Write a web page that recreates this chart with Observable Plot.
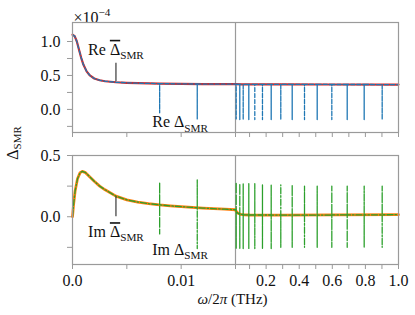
<!DOCTYPE html>
<html><head><meta charset="utf-8">
<script src="https://cdn.jsdelivr.net/npm/d3@7"></script>
<script src="https://cdn.jsdelivr.net/npm/@observablehq/plot@0.6"></script>
<style>
body{margin:0;background:#fff}
#wrap{position:relative;width:415px;height:315px;font-family:"Liberation Serif",serif;background:#fff}
#wrap svg{display:block;font-family:"Liberation Serif",serif !important}
#wrap svg text{fill:#111;font-family:"Liberation Serif",serif !important}
#ylab{position:absolute;left:13px;top:143px;transform:translate(-50%,-50%) rotate(-90deg);white-space:nowrap;font-size:16px;color:#111}
#ylab sub{font-size:11px;vertical-align:-3px}
</style></head><body><div id="wrap"><div id="ylab">Δ<sub>SMR</sub></div></div>
<script>
// ---- data ----
const reBarOmega = [0, 0.0002, 0.0004, 0.0006, 0.0008, 0.001, 0.0013, 0.0016, 0.002, 0.0025, 0.003, 0.004, 0.005, 0.006, 0.008, 0.01, 0.012, 0.015, 0.05, 0.1, 0.3, 0.6, 1.0];
const reBarValue = [1.10, 1.08, 1.0, 0.88, 0.76, 0.66, 0.56, 0.50, 0.455, 0.43, 0.415, 0.40, 0.392, 0.386, 0.38, 0.376, 0.373, 0.371, 0.370, 0.369, 0.368, 0.367, 0.366];
const imBarOmega = [0, 0.0001, 0.00024, 0.00046, 0.0007, 0.0009, 0.0012, 0.0016, 0.002, 0.0025, 0.003, 0.004, 0.005, 0.006, 0.007, 0.008, 0.009, 0.01, 0.011, 0.012, 0.013, 0.014, 0.015, 0.02, 0.03, 0.045, 0.07, 0.1, 0.3, 0.6, 1.0];
const imBarValue = [0, 0.10, 0.21, 0.31, 0.36, 0.37, 0.36, 0.325, 0.29, 0.25, 0.22, 0.168, 0.138, 0.12, 0.107, 0.097, 0.089, 0.082, 0.076, 0.071, 0.066, 0.062, 0.057, 0.042, 0.028, 0.02, 0.016, 0.014, 0.013, 0.015, 0.017];
const resOmega = [0.00802, 0.01148, 0.0192, 0.041, 0.0615, 0.0954, 0.1316, 0.178, 0.2307, 0.2887, 0.3576, 0.432, 0.5087, 0.597, 0.690, 0.7926, 0.9014];
const reResBase = [0.38, 0.374, 0.371, 0.37, 0.37, 0.369, 0.369, 0.369, 0.369, 0.368, 0.368, 0.368, 0.368, 0.367, 0.367, 0.367, 0.366];
const reResMin = [-0.05, -0.14, -0.14, -0.15, -0.15, -0.15, -0.15, -0.15, -0.15, -0.15, -0.15, -0.15, -0.15, -0.15, -0.15, -0.15, -0.15];
const imResBase = [0.097, 0.074, 0.040, 0.022, 0.017, 0.015, 0.014, 0.014, 0.014, 0.013, 0.013, 0.013, 0.013, 0.014, 0.015, 0.015, 0.016];
const imResTop = [0.28, 0.30, 0.28, 0.27, 0.27, 0.27, 0.27, 0.26, 0.26, 0.26, 0.26, 0.25, 0.25, 0.25, 0.25, 0.25, 0.25];
const imResBottom = [-0.14, -0.26, -0.26, -0.26, -0.26, -0.26, -0.26, -0.26, -0.26, -0.25, -0.25, -0.25, -0.25, -0.25, -0.25, -0.25, -0.25];
const xTicks = [0, 0.005, 0.01, 0.015, 0.1, 0.2, 0.3, 0.4, 0.5, 0.6, 0.7, 0.8, 0.9, 1.0];
const xTickLabels = ["0.0", "", "0.01", "", "", "0.2", "", "0.4", "", "0.6", "", "0.8", "", "1.0"];
const yTopTicks = [-0.25, 0, 0.25, 0.5, 0.75, 1.0];
const yTopTickLabels = ["", "0.0", "", "0.5", "", "1.0"];
const yBotTicks = [-0.25, 0, 0.25, 0.5];
const yBotTickLabels = ["", "0.0", "", "0.5"];
const xBreak = [0, 0.015, 1.0];
const topLabels = [{w: 0.004, v: 0.88, t: "Re Δ\u0304_SMR"}, {w: 0.0099, v: -0.19, t: "Re Δ_SMR"}];
const topPointer = [{w: 0.004, v1: 0.41, v2: 0.68}];
const botLabels = [{w: 0.004, v: -0.125, t: "Im Δ\u0304_SMR"}, {w: 0.0099, v: -0.27, t: "Im Δ_SMR"}];
const botPointer = [{w: 0.004, v1: 0.0, v2: 0.16}];

// ---- build series ----
const reBar = reBarOmega.map((w, i) => ({w, v: reBarValue[i]}));
const imBar = imBarOmega.map((w, i) => ({w, v: imBarValue[i]}));
const reFull = reBar.concat(resOmega.flatMap((w, i) => [{w, v: reResBase[i]}, {w, v: reResMin[i]}, {w, v: reResBase[i]}])).sort((a, b) => a.w - b.w);
const imFull = imBar.concat(resOmega.flatMap((w, i) => [{w, v: imResBase[i]}, {w, v: imResTop[i]}, {w, v: imResBottom[i]}, {w, v: imResBase[i]}])).sort((a, b) => a.w - b.w);

const GRAY = "#9a9a9a";
const FONT = "'Liberation Serif', serif";
const fmt = (ticks, labels) => d => { const i = ticks.indexOf(d); return i < 0 ? "" : labels[i]; };

// turn "Re Δ̄_SMR" into tspans: overlined Δ, subscript SMR; "^" gives superscript
function richify(svg) {
  const ns = "http://www.w3.org/2000/svg";
  svg.querySelectorAll("text").forEach(t => {
    if (t.querySelector("tspan")) return;
    const s = t.textContent;
    const m = s.match(/^(.*?)([_^])(.*)$/);
    if (!m) return;
    t.textContent = "";
    const base = m[1];
    const k = base.indexOf("\u0304");
    if (k > 0) {
      const a0 = document.createElementNS(ns, "tspan"); a0.textContent = base.slice(0, k - 1); t.appendChild(a0);
      const a1 = document.createElementNS(ns, "tspan"); a1.textContent = base[k - 1];
      a1.setAttribute("style", "text-decoration: overline; text-decoration-thickness: 1px");
      t.appendChild(a1);
      const rest = base.slice(k + 1);
      if (rest) { const a2 = document.createElementNS(ns, "tspan"); a2.textContent = rest; t.appendChild(a2); }
    } else {
      const a = document.createElementNS(ns, "tspan"); a.textContent = base; t.appendChild(a);
    }
    const b = document.createElementNS(ns, "tspan"); b.textContent = m[3];
    b.setAttribute("font-size", "0.7em");
    b.setAttribute("dy", m[2] === "_" ? "0.38em" : "-0.6em");
    t.appendChild(b);
  });
}

const topPlot = Plot.plot({
  width: 415, height: 140,
  marginLeft: 72, marginRight: 17, marginTop: 22, marginBottom: 8,
  style: {fontFamily: FONT, fontSize: "16px", color: GRAY, background: "white", overflow: "visible"},
  x: {type: "linear", domain: xBreak, ticks: xTicks, tickFormat: () => "", tickSize: 5, label: null},
  y: {type: "linear", domain: [-0.34, 1.28], ticks: yTopTicks, tickFormat: fmt(yTopTicks, yTopTickLabels), tickSize: 5, tickPadding: 7, label: null},
  marks: [
    Plot.ruleX([xBreak[1]], {stroke: GRAY, strokeWidth: 1.2}),
    Plot.line(reBar, {x: "w", y: "v", stroke: "#d62728", strokeWidth: 2.2}),
    Plot.line(reFull, {x: "w", y: "v", stroke: "#1f77b4", strokeWidth: 1.3, strokeDasharray: "4,2"}),
    Plot.ruleX(topPointer, {x: "w", y1: "v1", y2: "v2", stroke: "#111", strokeWidth: 1}),
    Plot.text(topLabels, {x: "w", y: "v", text: "t", textAnchor: "middle", fontSize: 16, fill: "#111"}),
    Plot.text(["×10^−4"], {frameAnchor: "top-left", dy: -11, dx: 1, textAnchor: "start", fontSize: 16, fill: "#111"}),
    Plot.frame({stroke: GRAY, strokeWidth: 1.2})
  ]
});
richify(topPlot);

const botPlot = Plot.plot({
  width: 415, height: 175,
  marginLeft: 72, marginRight: 17, marginTop: 15, marginBottom: 51,
  style: {fontFamily: FONT, fontSize: "16px", color: GRAY, background: "white", overflow: "visible"},
  x: {type: "linear", domain: xBreak, ticks: xTicks, tickFormat: fmt(xTicks, xTickLabels), tickSize: 5, tickPadding: 5, label: null},
  y: {type: "linear", domain: [-0.39, 0.5], ticks: yBotTicks, tickFormat: fmt(yBotTicks, yBotTickLabels), tickSize: 5, tickPadding: 7, label: null},
  marks: [
    Plot.ruleX([xBreak[1]], {stroke: GRAY, strokeWidth: 1.2}),
    Plot.line(imBar, {x: "w", y: "v", stroke: "#ff7f0e", strokeWidth: 2.8}),
    Plot.line(imFull, {x: "w", y: "v", stroke: "#2ca02c", strokeWidth: 1.3, strokeDasharray: "6,2,1.5,2"}),
    Plot.ruleX(botPointer, {x: "w", y1: "v1", y2: "v2", stroke: "#111", strokeWidth: 1}),
    Plot.text(botLabels, {x: "w", y: "v", text: "t", textAnchor: "middle", fontSize: 16, fill: "#111"}),
    Plot.text(["ω/2π (THz)"], {frameAnchor: "bottom", dy: 39, dx: -3, textAnchor: "middle", fontSize: 15, fill: "#111"}),
    Plot.frame({stroke: GRAY, strokeWidth: 1.2})
  ]
});
richify(botPlot);
// italic math symbols in the x label
botPlot.querySelectorAll("text").forEach(t => {
  if (t.textContent === "ω/2π (THz)") {
    t.innerHTML = '<tspan font-style="italic">ω</tspan>/2<tspan font-style="italic">π</tspan> (THz)';
  }
});

const wrap = document.getElementById("wrap");
wrap.appendChild(topPlot);
wrap.appendChild(botPlot);
</script>
</body></html>
